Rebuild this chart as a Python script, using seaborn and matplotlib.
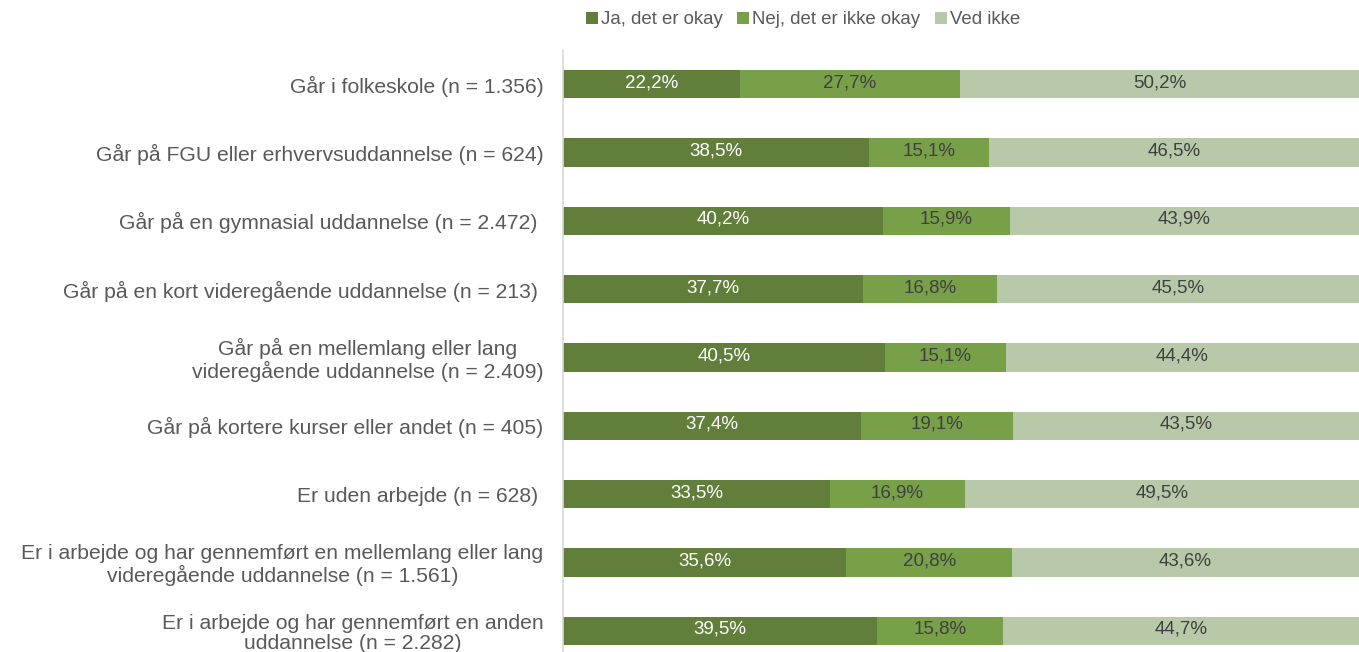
import numpy as np
import pandas as pd
import seaborn as sns
from matplotlib import pyplot as plt
from matplotlib.patches import Patch

categories = [
    'Går i folkeskole (n = 1.356)',
    'Går på FGU eller erhvervsuddannelse (n = 624)',
    'Går på en gymnasial uddannelse (n = 2.472) ',
    'Går på en kort videregående uddannelse (n = 213) ',
    'Går på en mellemlang eller lang\nvideregående uddannelse (n = 2.409)',
    'Går på kortere kurser eller andet (n = 405)',
    'Er uden arbejde (n = 628) ',
    'Er i arbejde og har gennemført en mellemlang eller lang\nvideregående uddannelse (n = 1.561)',
    'Er i arbejde og har gennemført en anden\nuddannelse (n = 2.282)',
]
series = ['Ja, det er okay', 'Nej, det er ikke okay', 'Ved ikke']
ja = [22.2, 38.5, 40.2, 37.7, 40.5, 37.4, 33.5, 35.6, 39.5]
nej = [27.7, 15.1, 15.9, 16.8, 15.1, 19.1, 16.9, 20.8, 15.8]
ved_ikke = [50.2, 46.5, 43.9, 45.5, 44.4, 43.5, 49.5, 43.6, 44.7]

colors = ['#617f3b', '#78a048', '#b8c9aa']
text_colors = ['white', '#404040', '#404040']

sns.set_style('white')
plt.rcParams['font.family'] = ['Liberation Sans', 'DejaVu Sans']

df = pd.DataFrame({'kategori': categories, 'ja': ja, 'nej': nej, 'ved': ved_ikke})
total = df[['ja', 'nej', 'ved']].sum(axis=1)
# normalise to 100 % like a 100% stacked bar
df['c1'] = df['ja'] / total * 100
df['c2'] = (df['ja'] + df['nej']) / total * 100
df['c3'] = 100.0

fig = plt.figure(figsize=(13.59, 6.52), dpi=100)
ax = fig.add_axes([563 / 1359, -13 / 652, 1 - 563 / 1359, 615 / 652])

for col, color in zip(['c3', 'c2', 'c1'], colors[::-1]):
    sns.barplot(data=df, x=col, y='kategori', color=color, width=0.41,
                saturation=1, ax=ax, linewidth=0)

starts = np.column_stack([np.zeros(len(df)), df['c1'], df['c2']])
ends = np.column_stack([df['c1'], df['c2'], df['c3']])
vals = np.column_stack([ja, nej, ved_ikke])
for i in range(len(df)):
    for j in range(3):
        xc = (starts[i, j] + ends[i, j]) / 2
        ax.text(xc, i - 0.02, f'{vals[i, j]:.1f}%'.replace('.', ','),
                ha='center', va='center', fontsize=13.5, color=text_colors[j])

ax.set_xlim(0, 100)
ax.set_ylim(8.5, -0.5)
ax.set_xlabel('')
ax.set_ylabel('')
ax.set_xticks([])
ax.tick_params(axis='y', length=0, pad=14, labelsize=15.2, labelcolor='#595959')
for lab in ax.get_yticklabels():
    lab.set_multialignment('center')
    lab.set_linespacing(1.08)
for s in ['top', 'right', 'bottom']:
    ax.spines[s].set_visible(False)
ax.spines['left'].set_color('#d9d9d9')
ax.spines['left'].set_linewidth(1.2)

handles = [Patch(facecolor=c, edgecolor='none') for c in colors]
fig.legend(handles, series, loc='center', bbox_to_anchor=(803 / 1359, 1 - 20 / 652),
           ncol=3, frameon=False, fontsize=13.4, labelcolor='#595959',
           handlelength=0.65, handleheight=0.65, handletextpad=0.15,
           columnspacing=0.8)

fig.savefig('out.png', dpi=100)
